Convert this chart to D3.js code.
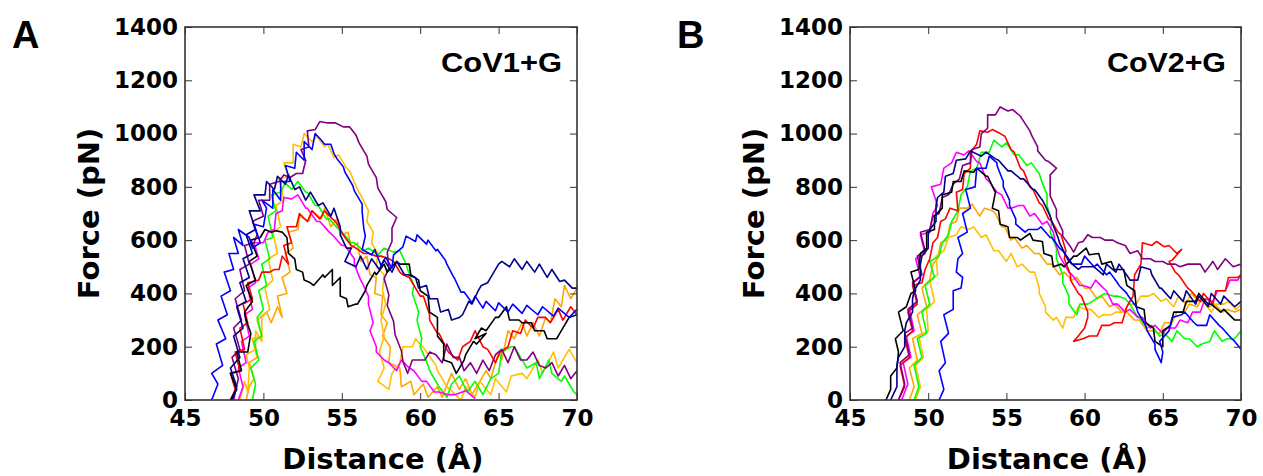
<!DOCTYPE html>
<html lang="en">
  <head>
    <meta charset="UTF-8" />
    <title>force-distance</title>
    <script src="https://d3js.org/d3.v7.min.js"></script>
    <style>
      body { margin: 0; background: #fff; }
      .tick text { font: bold 23px 'DejaVu Sans', sans-serif; fill: #000; }
      .tick line { stroke: #333; stroke-width: 1; }
      .title { font: bold 29px 'DejaVu Sans', sans-serif; fill: #000; }
      .tag { font: bold 27px 'Liberation Sans', Arial, sans-serif; fill: #000; }
      .panel { font: bold 38px 'Liberation Sans', Arial, sans-serif; fill: #000; }
    </style>
  </head>
  <body>
    <svg width="1263" height="476"></svg>
  </body>

  <script>
    // axes
    var xTicks = [45, 50, 55, 60, 65, 70]
    var yTicks = [0, 200, 400, 600, 800, 1000, 1200, 1400]
    var panelLabels = ['A', 'B']
    var systemNames = ['CoV1+G', 'CoV2+G']
    var lineColors = {
      orange: '#ffa500', gold: '#ffc000', green: '#00ff00', magenta: '#ff00ff',
      red: '#ff0000', purple: '#800080', black: '#000000', blue: '#0000ff', navy: '#00008b'
    }

    // panel A traces: [distance (A), force (pN)]
    var A_orange = [[48.9,0],[49.1,50],[49.4,80],[49.1,140],[49.6,160],[49.3,230],[49.9,240],[49.6,300],[50.2,330],[50.5,290],[50.9,350],[51.2,310],[50.9,390],[51.5,400],[51.2,460],[51.7,480],[51.4,550],[51.9,570],[51.6,630],[52.2,640],[52.3,690],[52.9,670],[53.1,710],[53.7,680],[53.9,720],[54.3,650],[54.7,680],[55.0,620],[55.4,630],[55.6,570],[56.0,590],[56.2,520],[56.6,540],[56.8,470],[57.2,460],[57.1,400],[57.6,390],[57.5,320],[57.9,290],[57.6,240],[58.1,200],[58.0,140],[58.7,120],[58.8,50],[59.4,70],[59.6,20],[60.2,60],[60.5,10],[61.1,50],[61.4,10],[62.0,100],[62.5,40],[62.9,80],[63.3,20],[63.8,70],[64.2,110],[64.5,80],[65.0,180],[65.2,150],[65.6,260],[66.0,230],[66.5,290],[66.8,240],[67.2,290],[67.6,240],[68.0,310],[68.3,290],[68.6,380],[69.0,350],[69.2,430],[69.6,380],[70,420]]
    var A_gold = [[48.5,0],[48.8,70],[49.0,30],[49.1,120],[48.9,170],[49.5,190],[49.5,260],[49.9,220],[49.9,310],[50.4,340],[50.1,420],[50.6,450],[50.3,530],[50.9,550],[50.6,630],[51.1,650],[50.8,730],[51.3,750],[51.0,830],[51.6,840],[51.3,890],[51.9,890],[51.9,960],[52.4,950],[52.6,1000],[53.1,970],[53.4,990],[53.9,950],[54.1,960],[54.5,910],[54.8,920],[55.3,870],[55.5,860],[56.0,790],[56.2,770],[56.7,710],[56.6,670],[57.0,630],[56.9,590],[57.3,550],[57.2,500],[57.7,470],[57.6,410],[57.8,360],[57.5,300],[57.7,240],[57.4,180],[57.7,120],[57.3,70],[58.0,40],[58.2,100],[58.7,140],[58.9,200],[59.5,200],[59.7,230],[60.3,190],[60.4,180],[61.0,130],[61.1,110],[61.7,50],[61.9,40],[62.6,0],[62.9,50],[63.5,10],[63.8,70],[64.5,20],[64.8,80],[65.5,30],[65.8,90],[66.5,100],[66.8,80],[67.5,150],[67.8,100],[68.5,180],[68.8,120],[69.5,190],[70,140]]
    var A_green = [[49.3,0],[49.5,60],[49.2,120],[49.7,150],[49.4,220],[49.9,240],[49.6,310],[50.0,340],[49.7,410],[50.2,430],[49.9,510],[50.4,530],[50.1,600],[50.6,610],[50.3,690],[50.8,710],[50.5,770],[51.1,780],[51.4,815],[51.8,790],[52.2,820],[52.7,780],[52.8,780],[53.3,730],[53.5,730],[54.0,680],[54.2,680],[54.8,640],[55.0,630],[55.6,590],[55.8,590],[56.4,560],[56.7,570],[57.3,545],[57.7,570],[58.3,555],[58.7,560],[59.1,510],[59.2,490],[59.6,430],[59.5,400],[59.9,330],[59.8,300],[60.1,230],[60.0,200],[60.5,130],[60.6,110],[61.1,60],[61.2,50],[61.7,10],[62.0,60],[62.5,90],[63.0,30],[63.5,70],[64.0,20],[64.5,80],[65.0,100],[65.2,180],[65.8,200],[66.0,200],[66.6,140],[66.8,120],[67.4,140],[67.6,80],[68.2,150],[68.4,100],[69.0,70],[69.2,90],[69.8,30],[70,20]]
    var A_magenta = [[48.4,0],[48.7,50],[48.4,120],[48.9,140],[48.6,220],[49.1,240],[48.8,320],[49.3,340],[49.0,420],[49.5,440],[49.2,510],[49.7,530],[49.4,590],[50.0,590],[50.3,630],[50.7,640],[50.8,700],[51.2,710],[51.3,760],[51.8,755],[52.2,770],[52.7,720],[52.8,720],[53.4,670],[53.6,670],[54.2,630],[54.4,620],[55.0,580],[55.2,580],[55.8,530],[55.8,510],[56.2,450],[56.3,440],[56.7,390],[56.7,360],[57.0,290],[56.8,260],[57.2,200],[57.2,180],[57.7,150],[58.0,140],[58.5,110],[58.8,150],[59.3,120],[59.6,110],[60.1,70],[60.4,70],[60.9,30],[61.2,30],[61.8,20],[62.2,20],[62.9,35],[63.5,5]]
    var A_red = [[47.9,0],[48.2,40],[47.9,100],[48.5,110],[48.2,180],[48.8,190],[48.5,270],[49.0,290],[48.7,360],[49.3,380],[49.0,440],[49.7,450],[49.9,480],[50.4,480],[50.7,490],[51.0,490],[51.2,540],[51.6,510],[51.3,580],[51.8,590],[51.5,650],[52.1,650],[52.3,700],[52.8,670],[53.1,710],[53.6,680],[53.9,710],[54.4,680],[54.6,670],[55.0,630],[55.2,610],[55.6,580],[55.9,570],[56.4,550],[56.7,550],[57.2,540],[57.5,540],[58.0,530],[58.3,520],[58.7,480],[58.9,470],[59.3,460],[59.5,440],[60.0,390],[60.2,390],[60.6,320],[60.6,300],[61.1,250],[61.2,250],[61.7,190],[61.8,180],[62.4,150],[62.7,200],[63.2,220],[63.5,260],[64.0,200],[64.3,190],[64.8,140],[65.1,180],[65.6,200],[65.9,260],[66.4,250],[66.7,300],[67.2,270],[67.5,310],[68.0,310],[68.3,290],[68.8,340],[69.1,300],[69.6,350],[70,320]]
    var A_purple = [[48.1,0],[48.4,80],[48.0,160],[48.5,190],[48.1,270],[48.6,300],[48.2,380],[48.8,410],[48.5,490],[49.1,510],[48.8,580],[49.4,590],[49.6,620],[49.3,670],[50.0,690],[49.7,750],[50.4,750],[50.4,810],[51.0,820],[51.3,845],[51.7,835],[52.1,850],[52.5,850],[52.7,900],[52.4,940],[52.9,950],[52.8,1010],[53.3,1015],[53.6,1045],[54.1,1040],[54.6,1040],[55.1,1025],[55.5,1025],[55.9,995],[56.1,965],[56.6,915],[56.7,885],[57.2,835],[57.3,795],[57.8,745],[57.9,715],[58.5,685],[58.2,645],[58.2,595],[57.9,555],[58.0,495],[57.7,455],[58.0,395],[57.9,355],[58.3,295],[58.4,245],[58.8,185],[58.9,145],[59.2,100],[59.5,150],[59.9,150],[60.3,150],[60.6,180],[61.0,170],[61.4,140],[61.7,210],[62.1,160],[62.5,160],[62.8,110],[63.2,140],[63.6,100],[64.0,150],[64.4,110],[64.8,170],[65.2,190],[65.6,140],[66.0,200],[66.4,150],[66.8,150],[67.2,180],[67.6,130],[68.0,120],[68.4,140],[68.8,90],[69.2,130],[69.6,80],[70,110]]
    var A_black = [[47.9,0],[48.3,40],[47.9,100],[48.6,110],[48.3,180],[49.0,180],[49.2,250],[48.9,300],[48.8,330],[49.3,370],[48.9,430],[49.5,450],[49.1,520],[49.6,540],[49.2,600],[49.8,610],[50.1,640],[50.5,630],[50.8,635],[51.2,630],[51.5,610],[51.6,550],[52.0,530],[52.1,490],[52.5,480],[52.6,450],[53.0,440],[53.2,430],[53.8,470],[53.9,460],[54.4,490],[54.4,430],[54.9,460],[54.9,390],[55.3,380],[55.4,350],[55.9,360],[56.0,360],[56.5,410],[56.6,430],[57.1,480],[57.2,470],[57.7,510],[57.9,480],[58.5,520],[58.7,510],[59.3,510],[59.4,470],[59.9,450],[60.0,410],[60.5,390],[60.6,330],[61.1,310],[61.1,240],[61.5,210],[61.5,150],[62.0,140],[62.3,100],[62.8,150],[62.9,170],[63.4,220],[63.6,210],[64.2,250],[63.5,230],[63.9,270],[64.2,260],[64.8,310],[65.0,310],[65.5,350],[65.7,300],[66.3,300],[66.5,290],[67.1,290],[67.3,260],[67.9,260],[68.1,230],[68.7,230],[68.9,250],[69.5,310],[70,320]]
    var A_blue = [[46.7,0],[47.1,60],[46.7,100],[47.4,130],[47.0,210],[47.6,230],[47.1,300],[47.7,320],[47.3,390],[47.9,410],[47.5,480],[48.1,490],[47.8,550],[48.4,550],[48.1,610],[48.7,580],[48.4,640],[49.1,610],[49.3,570],[49.8,590],[49.4,660],[50.0,650],[50.2,720],[49.9,750],[50.6,720],[50.6,790],[51.1,750],[51.1,820],[51.7,820],[51.4,880],[52.0,870],[52.1,930],[52.6,900],[52.6,970],[53.1,940],[53.3,1000],[53.7,975],[53.9,960],[54.3,960],[54.5,925],[54.7,905],[55.1,875],[55.2,855],[55.7,805],[55.8,785],[56.3,735],[56.3,705],[56.4,645],[56.5,615],[56.3,565],[56.9,545],[57.1,565],[57.5,505],[57.8,535],[58.2,495],[58.3,545],[58.9,575],[59.1,615],[59.7,595],[59.8,620],[60.4,585],[60.5,600],[61.0,560],[61.1,565],[61.6,525],[61.7,510],[62.1,465],[62.2,455],[62.6,405],[62.8,405],[63.3,365],[63.5,390],[64.0,345],[64.2,370],[64.8,335],[65.0,365],[65.6,330],[65.9,360],[66.5,325],[66.8,355],[67.5,320],[67.8,350],[68.5,315],[68.8,345],[69.5,310],[70,340]]
    var A_navy = [[48.0,0],[48.3,50],[47.9,120],[48.5,160],[48.1,240],[48.7,270],[48.3,350],[48.9,370],[48.5,440],[49.1,460],[48.7,530],[49.3,550],[48.9,620],[49.5,640],[49.1,710],[49.8,710],[49.4,770],[50.1,770],[50.2,820],[50.7,790],[50.9,840],[51.4,810],[51.6,845],[52.0,790],[52.3,800],[52.7,750],[53.0,780],[53.5,730],[53.8,740],[54.3,690],[54.5,720],[54.9,650],[54.9,620],[55.3,570],[55.6,570],[55.2,520],[55.9,500],[56.2,540],[56.6,490],[56.9,530],[57.4,490],[57.7,525],[58.2,480],[58.5,520],[59.0,470],[59.2,470],[59.7,460],[59.9,420],[60.4,430],[60.6,380],[61.1,380],[61.3,330],[61.8,340],[62.0,300],[62.5,310],[62.7,320],[63.1,370],[63.3,360],[63.7,410],[63.9,430],[64.3,440],[64.5,460],[65.0,510],[65.2,520],[65.7,500],[66.0,530],[66.5,490],[66.8,520],[67.3,480],[67.6,510],[68.1,460],[68.4,490],[68.9,445],[69.2,450],[69.7,420],[70,420]]

    // panel B traces
    var B_orange = [[48.8,0],[49.1,50],[48.8,120],[49.3,150],[49.0,230],[49.6,250],[49.3,320],[49.9,350],[49.6,420],[50.1,450],[50.3,510],[50.6,530],[50.8,590],[51.2,600],[51.4,660],[51.8,670],[52.0,720],[52.5,720],[52.8,735],[53.3,690],[53.6,720],[54.1,710],[54.3,700],[54.7,650],[54.9,650],[55.3,600],[55.5,610],[56.0,570],[56.3,580],[56.8,550],[57.1,550],[57.6,510],[57.9,510],[58.4,470],[58.7,480],[59.2,450],[59.5,460],[60.0,420],[60.3,420],[60.8,380],[61.1,390],[61.6,350],[61.9,360],[62.4,330],[62.7,330],[63.2,300],[63.5,300],[64.0,260],[64.3,260],[64.8,250],[65.1,290],[65.6,290],[65.9,330],[66.4,330],[66.7,360],[67.2,350],[67.5,380],[68.0,350],[68.3,360],[68.8,330],[69.1,340],[69.6,330],[70,340]]
    var B_gold = [[49.2,0],[49.5,50],[49.2,130],[49.7,160],[49.4,240],[50.0,260],[49.9,340],[50.4,370],[50.1,450],[50.6,470],[50.5,540],[51.0,560],[51.3,610],[51.8,620],[52.1,650],[52.6,640],[52.9,650],[53.4,610],[53.7,620],[54.2,560],[54.5,560],[55.0,520],[55.3,550],[55.7,500],[56.0,510],[56.5,480],[56.8,480],[57.1,420],[57.1,400],[57.5,350],[57.5,330],[58.0,300],[58.2,310],[58.6,270],[58.8,310],[59.3,310],[59.6,350],[60.1,340],[60.4,340],[60.9,310],[61.2,320],[61.7,320],[62.0,330],[62.5,330],[62.8,360],[63.3,360],[63.6,390],[64.1,390],[64.4,400],[64.9,370],[65.2,380],[65.7,350],[66.0,390],[66.5,360],[66.8,400],[67.3,370],[67.6,370],[68.1,330],[68.4,360],[68.9,360],[69.2,370],[69.7,340],[70,360]]
    var B_green = [[49.1,0],[49.4,50],[49.1,130],[49.6,160],[49.3,230],[49.9,250],[49.6,330],[50.1,360],[49.8,430],[50.4,460],[50.1,520],[50.7,540],[50.9,590],[51.3,620],[51.5,670],[51.9,710],[52.1,770],[52.5,800],[52.7,860],[53.1,870],[53.4,930],[53.9,930],[54.2,975],[54.7,950],[55.0,965],[55.5,920],[55.8,920],[56.3,880],[56.6,890],[57.1,850],[57.2,830],[57.6,770],[57.6,730],[57.9,670],[57.8,630],[58.2,570],[58.2,530],[58.6,470],[58.6,440],[59.0,390],[59.0,360],[59.5,320],[59.7,360],[60.2,360],[60.5,370],[61.0,390],[61.3,400],[61.8,390],[62.1,390],[62.6,380],[62.9,360],[63.3,320],[63.5,310],[64.0,270],[64.3,280],[64.8,240],[65.1,250],[65.6,220],[65.9,260],[66.4,230],[66.7,230],[67.2,200],[67.5,210],[68.0,220],[68.3,260],[68.8,220],[69.1,230],[69.6,230],[70,260]]
    var B_magenta = [[48.3,0],[48.7,60],[48.4,140],[48.9,160],[48.6,240],[49.1,260],[48.8,340],[49.3,370],[49.0,440],[49.5,460],[49.2,530],[49.8,550],[49.5,620],[50.1,630],[50.3,700],[50.6,730],[50.2,800],[50.8,810],[51.0,870],[51.5,890],[51.8,930],[52.3,920],[52.6,935],[53.1,895],[53.3,890],[53.7,830],[53.9,820],[54.4,780],[54.7,770],[55.1,720],[55.3,720],[55.8,730],[56.1,730],[56.5,690],[56.8,700],[57.3,660],[57.6,670],[58.0,630],[58.1,600],[58.4,540],[58.6,520],[59.0,480],[59.2,470],[59.7,430],[59.9,430],[60.4,420],[60.7,450],[61.2,420],[61.4,410],[61.8,360],[62.1,360],[62.6,330],[62.9,340],[63.4,310],[63.7,310],[64.2,270],[64.5,280],[65.0,250],[65.3,270],[65.8,270],[66.1,300],[66.6,290],[66.9,330],[67.4,330],[67.7,380],[68.2,370],[68.5,410],[69.0,410],[69.3,450],[69.8,450],[70,470]]
    var B_red = [[48.1,0],[48.5,50],[48.2,130],[48.8,160],[48.5,230],[49.0,260],[48.7,330],[49.3,360],[49.0,430],[49.6,440],[49.8,490],[50.1,530],[50.3,590],[50.6,610],[50.8,670],[51.1,680],[51.4,720],[51.9,710],[51.8,780],[52.2,790],[52.3,850],[52.7,870],[52.7,930],[53.1,960],[53.3,1010],[53.8,1005],[54.1,1015],[54.6,1000],[54.9,990],[55.3,940],[55.5,930],[55.9,870],[56.1,860],[56.5,800],[56.7,790],[57.1,740],[57.3,730],[57.7,680],[57.9,670],[58.3,630],[58.5,620],[58.8,560],[58.7,530],[59.1,470],[59.1,450],[59.6,400],[59.8,390],[60.2,330],[60.2,310],[60.0,270],[59.6,240],[59.3,220],[59.9,230],[60.3,240],[60.8,240],[61.1,280],[61.6,280],[61.9,290],[62.4,290],[62.7,350],[63.1,390],[63.2,470],[63.6,510],[63.7,590],[64.3,580],[64.6,595],[65.1,575],[65.4,580],[65.9,550],[66.2,565],[65.6,525],[65.4,520],[65.8,480],[66.0,470],[66.6,420],[66.8,410],[67.4,370],[67.6,400],[68.2,360],[68.4,410],[69.0,410],[69.2,460],[69.8,460],[70,470]]
    var B_purple = [[48.1,0],[48.5,60],[48.2,140],[48.8,170],[48.5,250],[49.0,270],[48.7,340],[49.3,370],[49.0,440],[49.6,470],[49.3,540],[49.8,560],[49.5,630],[50.1,640],[50.3,690],[50.7,700],[50.9,760],[51.3,770],[51.6,810],[52.0,830],[52.2,880],[52.7,890],[52.8,940],[53.3,950],[53.4,1000],[53.8,1020],[53.8,1070],[54.3,1070],[54.6,1100],[55.1,1085],[55.4,1090],[55.9,1065],[56.0,1055],[56.5,1010],[56.6,995],[57.0,950],[57.0,935],[57.5,900],[57.7,895],[58.2,870],[57.8,845],[57.8,795],[57.8,765],[58.2,715],[58.2,685],[58.6,635],[58.6,615],[59.1,575],[59.3,555],[59.6,590],[59.9,595],[60.2,620],[60.5,610],[61.0,610],[61.3,600],[61.8,600],[62.1,590],[62.6,580],[62.9,550],[63.4,560],[63.7,530],[64.2,530],[64.5,520],[65.0,520],[65.3,510],[65.8,510],[66.1,500],[66.6,510],[66.9,510],[67.4,510],[67.7,480],[68.2,520],[68.5,490],[69.0,530],[69.5,500],[70,510]]
    var B_black = [[47.3,0],[47.6,40],[47.6,90],[48.0,120],[48.1,180],[47.9,230],[48.4,260],[48.1,330],[48.6,350],[48.9,400],[49.2,410],[48.9,480],[49.4,490],[49.5,550],[49.9,570],[49.9,630],[50.4,640],[50.4,690],[50.9,720],[50.9,770],[51.5,780],[51.6,820],[52.1,820],[52.3,860],[52.9,855],[53.1,870],[53.7,840],[53.8,840],[54.2,790],[54.3,780],[54.1,720],[54.5,710],[54.6,660],[55.1,650],[55.2,610],[55.7,610],[55.9,600],[56.5,625],[56.7,600],[57.3,595],[57.4,550],[57.9,540],[58.0,500],[58.5,510],[58.7,500],[59.3,540],[59.5,540],[60.1,570],[60.3,545],[60.9,550],[61.1,510],[61.7,520],[61.9,490],[62.5,490],[62.7,430],[63.2,410],[63.3,350],[63.8,340],[63.9,290],[64.4,270],[64.5,220],[65.0,200],[65.0,260],[65.5,280],[65.7,330],[66.3,330],[66.5,370],[67.1,370],[67.3,400],[67.9,360],[68.1,360],[68.7,330],[68.9,340],[69.6,300],[70,300]]
    var B_blue = [[50.7,0],[51.0,40],[50.7,110],[51.1,140],[50.8,220],[51.3,250],[51.0,320],[51.6,340],[51.6,410],[52.1,420],[52.2,460],[51.8,480],[51.9,530],[52.2,550],[51.9,610],[52.5,630],[52.2,700],[52.7,720],[52.4,790],[53.0,800],[53.1,870],[53.7,870],[53.9,915],[54.4,890],[54.4,880],[54.8,820],[54.8,800],[55.2,750],[55.2,730],[55.6,680],[55.6,660],[56.2,630],[56.4,640],[57.0,640],[57.2,650],[57.8,610],[57.9,610],[58.4,570],[58.6,560],[59.1,520],[59.2,510],[59.8,510],[60.0,540],[60.6,500],[60.8,510],[61.4,470],[61.6,480],[62.1,440],[62.2,430],[62.7,400],[62.8,390],[63.3,350],[63.4,330],[63.9,280],[64.0,260],[64.5,210],[64.5,190],[64.9,140],[65.0,180],[64.8,220],[65.4,260],[65.6,310],[66.2,320],[66.4,330],[67.0,290],[67.2,280],[67.8,280],[68.0,320],[68.6,280],[68.8,270],[69.4,230],[69.6,220],[70,190]]
    var B_navy = [[47.6,0],[48.0,50],[48.0,130],[48.1,160],[48.5,200],[48.5,260],[48.6,290],[49.0,330],[49.0,380],[49.1,410],[49.5,450],[49.5,510],[49.6,540],[50.0,570],[50.0,620],[50.1,640],[50.5,670],[50.5,730],[50.6,760],[51.0,780],[51.1,840],[51.6,850],[51.8,900],[52.4,905],[52.7,935],[53.4,915],[53.7,930],[54.3,905],[54.5,900],[55.1,860],[55.3,860],[55.9,830],[56.1,830],[56.7,790],[56.8,790],[57.3,750],[57.4,740],[57.8,690],[57.9,670],[58.3,610],[58.4,590],[58.9,530],[59.0,520],[59.6,490],[59.8,500],[60.4,500],[60.6,500],[61.2,470],[61.4,510],[62.0,480],[62.2,510],[62.8,460],[62.9,450],[63.4,450],[63.6,500],[64.2,490],[64.3,470],[64.8,420],[64.9,420],[65.5,380],[65.7,410],[66.3,370],[66.5,410],[67.1,360],[67.3,390],[67.9,350],[68.1,400],[68.7,360],[68.9,390],[69.6,350],[70,370]]

    var panels = [
      {
        left: 185, right: 577, label: panelLabels[0], name: systemNames[0], tagWidth: 121,
        traces: [
          { c: 'orange', d: A_orange }, { c: 'gold', d: A_gold }, { c: 'green', d: A_green },
          { c: 'magenta', d: A_magenta }, { c: 'red', d: A_red }, { c: 'purple', d: A_purple },
          { c: 'black', d: A_black }, { c: 'blue', d: A_blue }, { c: 'navy', d: A_navy }
        ]
      },
      {
        left: 850, right: 1241, label: panelLabels[1], name: systemNames[1], tagWidth: 119,
        traces: [
          { c: 'orange', d: B_orange }, { c: 'gold', d: B_gold }, { c: 'green', d: B_green },
          { c: 'magenta', d: B_magenta }, { c: 'red', d: B_red }, { c: 'purple', d: B_purple },
          { c: 'black', d: B_black }, { c: 'blue', d: B_blue }, { c: 'navy', d: B_navy }
        ]
      }
    ]

    var plotTop = 27
    var plotBottom = 400
    var svg = d3.select('svg')

    panels.forEach(function (p, i) {
      var x = d3.scaleLinear().domain([45, 70]).range([p.left, p.right])
      var y = d3.scaleLinear().domain([0, 1400]).range([plotBottom, plotTop])

      // clip to plot area
      svg.append('clipPath').attr('id', 'clip' + i)
        .append('rect')
        .attr('x', p.left).attr('y', plotTop)
        .attr('width', p.right - p.left).attr('height', plotBottom - plotTop)

      var line = d3.line()
        .x(function (d) { return x(d[0]) })
        .y(function (d) { return y(d[1]) })

      svg.append('g')
        .attr('clip-path', 'url(#clip' + i + ')')
        .selectAll('path')
        .data(p.traces)
        .enter()
        .append('path')
        .attr('d', function (t) { return line(t.d) })
        .attr('fill', 'none')
        .attr('stroke', function (t) { return lineColors[t.c] })
        .attr('stroke-width', 1.6)
        .attr('stroke-linejoin', 'round')

      // axes, ticks pointing inward on all four sides
      svg.append('g')
        .attr('transform', 'translate(0,' + plotBottom + ')')
        .call(d3.axisBottom(x).tickValues(xTicks).tickFormat(d3.format('d')).tickSizeInner(-7).tickSizeOuter(0).tickPadding(10))
        .call(function (g) { g.select('.domain').remove() })
      svg.append('g')
        .attr('transform', 'translate(0,' + plotTop + ')')
        .call(d3.axisTop(x).tickValues(xTicks).tickSizeInner(-7).tickSizeOuter(0).tickFormat(''))
        .call(function (g) { g.select('.domain').remove() })
      svg.append('g')
        .attr('transform', 'translate(' + p.left + ',0)')
        .call(d3.axisLeft(y).tickValues(yTicks).tickFormat(d3.format('d')).tickSizeInner(-7).tickSizeOuter(0).tickPadding(7))
        .call(function (g) { g.select('.domain').remove() })
      svg.append('g')
        .attr('transform', 'translate(' + p.right + ',0)')
        .call(d3.axisRight(y).tickValues(yTicks).tickSizeInner(-7).tickSizeOuter(0).tickFormat(''))
        .call(function (g) { g.select('.domain').remove() })

      // frame
      svg.append('rect')
        .attr('x', p.left).attr('y', plotTop)
        .attr('width', p.right - p.left).attr('height', plotBottom - plotTop)
        .attr('fill', 'none').attr('stroke', '#333').attr('stroke-width', 1.6)

      // titles
      svg.append('text').attr('class', 'title')
        .attr('transform', 'translate(' + (p.left - 86) + ',' + (plotTop + plotBottom) / 2 + ') rotate(-90)')
        .attr('text-anchor', 'middle')
        .text('Force (pN)')
      svg.append('text').attr('class', 'title')
        .attr('x', (p.left + p.right) / 2 + 2).attr('y', 469)
        .attr('text-anchor', 'middle')
        .text('Distance (Å)')
      svg.append('text').attr('class', 'tag')
        .attr('x', p.right - 15 - p.tagWidth).attr('y', 72)
        .attr('textLength', p.tagWidth)
        .attr('lengthAdjust', 'spacingAndGlyphs')
        .text(p.name)
      svg.append('text').attr('class', 'panel')
        .attr('x', p.left - 173).attr('y', 48)
        .text(p.label)
    })
  </script>
</html>
